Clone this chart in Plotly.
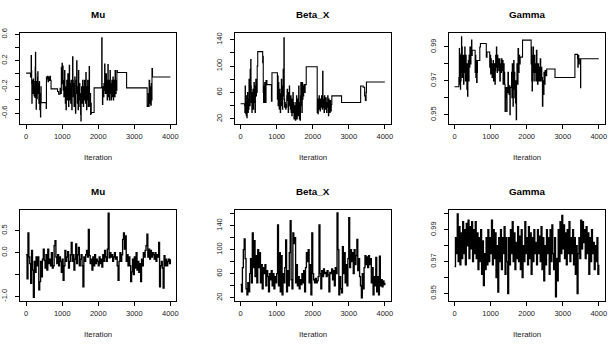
import plotly.graph_objects as go

# ---------------- data ----------------
panel_titles = ["Mu", "Beta_X", "Gamma"]
x_tick_vals = [0, 1000, 2000, 3000, 4000]
x_tick_text = ["0", "1000", "2000", "3000", "4000"]

# Row 1: poorly mixing chain (iteration, value) change points
mu_a_iter = [0, 120, 138, 146, 152, 158, 165, 172, 180, 188, 196, 204, 212, 220, 228, 236, 244, 250, 257, 264,
             270, 276, 284, 292, 300, 308, 316, 322, 330, 338, 346, 352, 360, 366, 372, 378, 386, 392, 397, 404,
             410, 416, 555, 562, 575, 590, 605, 620, 640, 660, 675, 690, 870, 900, 940, 965,
             975, 985, 995, 1005, 1015, 1025, 1035, 1045, 1055, 1065, 1075, 1085, 1095, 1105, 1115, 1125, 1135,
             1145, 1155, 1165, 1175, 1185, 1195, 1205, 1215, 1225, 1235, 1245, 1255, 1265, 1275, 1287, 1297,
             1307, 1317, 1327, 1337, 1347, 1357, 1367, 1377, 1390, 1400, 1410, 1420, 1430, 1440, 1450, 1460,
             1470, 1480, 1490, 1500, 1510, 1518, 1526, 1535, 1545, 1555, 1565, 1575, 1585, 1595, 1605, 1615,
             1625, 1635, 1645, 1655, 1665, 1675, 1685, 1695, 1705, 1715, 1725, 1735, 1747, 1757, 1767, 1777,
             1787, 1795, 1805, 1811, 1885, 2096, 2106,
             2116, 2126, 2136, 2146, 2156, 2166, 2176, 2186, 2196, 2206, 2216, 2226, 2236, 2246, 2256, 2266,
             2276, 2286, 2296, 2306, 2316, 2326, 2336, 2346, 2356, 2366, 2376, 2386, 2396, 2406, 2416, 2426,
             2436, 2446, 2456, 2466, 2476, 2486, 2496, 2506, 2516, 2529, 2786,
             3356, 3370, 3390, 3400, 3410, 3425, 3440, 3455, 3470, 3480, 3490, 3505, 4000]
mu_a_val = [0.01, -0.05, 0.28, 0.05, -0.15, -0.45, -0.2, -0.1, -0.3, -0.22, -0.08, -0.3, -0.18, -0.34, -0.2, -0.12,
            -0.36, 0.1, 0.33, 0.0, -0.3, -0.54, -0.3, -0.12, -0.38, -0.2, -0.05, 0.03, -0.18, -0.3, -0.15, -0.45,
            -0.25, -0.12, -0.35, -0.55, -0.3, -0.45, -0.66, -0.35, -0.2, -0.44, -0.53, -0.05, -0.08, -0.04, -0.12,
            -0.05, -0.1, -0.04, -0.1, -0.23, -0.27, -0.31, -0.22, -0.3,
            0.1, -0.15, 0.16, -0.05, 0.12, -0.25, -0.1, -0.35, -0.15, 0.05, -0.3, -0.45, -0.2, -0.55, -0.3, -0.1,
            -0.4, -0.2, 0.0, -0.35, -0.5, -0.25, 0.13, -0.15, -0.4, -0.2, -0.45, -0.1, -0.3, -0.55, -0.2, 0.26,
            -0.1, -0.35, -0.15, -0.5, -0.25, -0.05, -0.4, -0.6, -0.3, -0.1, 0.2, -0.2, -0.45, -0.3, -0.55, 0.05,
            -0.25, -0.4, -0.15, -0.5, -0.3, -0.62, -0.72, -0.35, -0.2, -0.45, -0.25, -0.1, -0.35, -0.5, -0.2,
            -0.4, -0.1, -0.3, -0.15, -0.45, 0.02, -0.3, -0.55, -0.2, -0.4, -0.1, -0.25, -0.5, -0.2, 0.11, -0.3,
            -0.5, -0.3, -0.62, -0.45, -0.6, -0.59, -0.215, 0.55, -0.2,
            -0.47, -0.3, -0.2, -0.35, -0.15, -0.25, 0.15, -0.1, -0.3, -0.2, 0.0, -0.3, -0.15, -0.4, -0.1, 0.14,
            -0.2, -0.35, -0.1, -0.4, -0.2, 0.05, -0.3, -0.15, -0.4, -0.25, -0.1, -0.35, -0.2, -0.05, -0.4, -0.25,
            -0.3, -0.1, -0.35, 0.05, -0.2, -0.3, -0.1, -0.25, 0.05, 0.02, -0.215,
            -0.5, -0.48, -0.3, -0.5, -0.1, -0.45, -0.2, -0.48, -0.15, -0.4, 0.08, -0.05, -0.05]

beta_a_iter = [0, 110, 118, 126, 134, 142, 150, 158, 166, 174, 182, 190, 198, 206, 214, 222, 232, 240, 248, 256,
               264, 272, 280, 288, 296, 304, 312, 320, 330, 340, 350, 360, 370, 380, 390, 400, 410, 420, 430, 440,
               450, 460, 475, 612, 620, 628, 636, 644, 652, 660, 668, 676, 690, 705, 730, 855, 870, 1020,
               1030, 1040, 1050, 1060, 1070, 1080, 1090, 1100, 1110, 1120, 1130, 1140, 1150, 1160, 1170, 1180,
               1190, 1200, 1210, 1220, 1230, 1240, 1250, 1260, 1270, 1280, 1290, 1300, 1310, 1320, 1330, 1340,
               1350, 1360, 1370, 1380, 1390, 1400, 1410, 1420, 1430, 1440, 1450, 1460, 1470, 1480, 1490, 1500,
               1510, 1520, 1530, 1540, 1550, 1560, 1570, 1580, 1590, 1600, 1610, 1620, 1630, 1640, 1650, 1660,
               1670, 1680, 1690, 1700, 1710, 1720, 1730, 1740, 1750, 1760, 1780, 1790, 1820, 2124,
               2135, 2145, 2155, 2165, 2175, 2185, 2195, 2205, 2215, 2225, 2235, 2245, 2255, 2265, 2275, 2285,
               2295, 2305, 2315, 2325, 2335, 2345, 2355, 2365, 2375, 2385, 2395, 2405, 2415, 2425, 2435, 2445,
               2455, 2465, 2475, 2485, 2495, 2505, 2515, 2530, 2800, 3330, 3400, 3440, 3460, 3480, 3490, 4000]
beta_a_val = [43, 40, 30, 70, 35, 28, 55, 25, 45, 22, 35, 60, 40, 30, 50, 35, 80, 55, 70, 40,
              95, 60, 110, 70, 45, 55, 30, 60, 40, 65, 35, 55, 75, 45, 70, 30, 60, 80, 55, 75,
              60, 100, 122, 105, 115, 60, 45, 70, 48, 45, 75, 50, 45, 78, 72, 47, 90, 50,
              85, 40, 75, 55, 35, 65, 45, 30, 58, 40, 80, 45, 70, 35, 55, 95,
              60, 143, 50, 38, 45, 40, 35, 42, 38, 55, 65, 48, 55, 30, 60, 45,
              70, 40, 52, 35, 55, 30, 45, 25, 50, 35, 60, 30, 45, 20, 40, 25,
              35, 18, 45, 28, 55, 20, 40, 30, 50, 25, 70, 35, 20, 45, 18, 55,
              75, 40, 60, 30, 75, 50, 70, 55, 65, 72, 60, 72, 99, 30,
              50, 28, 45, 35, 55, 40, 48, 32, 50, 45, 38, 55, 42, 35, 92, 50,
              38, 45, 30, 55, 40, 48, 35, 52, 42, 30, 45, 38, 55, 40, 25, 50,
              35, 45, 30, 48, 38, 32, 42, 55, 45, 70, 68, 55, 48, 60, 76, 76]

gamma_a_iter = [0, 120, 126, 132, 138, 144, 150, 156, 162, 168, 174, 180, 186, 192, 198, 206, 214, 222, 230, 240,
                250, 260, 270, 282, 292, 302, 312, 322, 340, 350, 360, 370, 380, 392, 402, 412, 425, 440, 455, 470,
                480, 490, 560, 570, 580, 590, 600, 612, 625, 635, 660, 700, 717, 873, 880, 900, 960,
                975, 990, 1000, 1010, 1020, 1030, 1040, 1050, 1060, 1070, 1080, 1090, 1100, 1110, 1120, 1130,
                1140, 1150, 1160, 1170, 1180, 1190, 1200, 1210, 1225, 1240, 1255, 1270, 1285, 1300, 1315, 1330,
                1345, 1360, 1375, 1390, 1400, 1410, 1420, 1434, 1445, 1455, 1470, 1480, 1495, 1510, 1520, 1535,
                1545, 1560, 1580, 1590, 1600, 1610, 1620, 1630, 1640, 1650, 1660, 1670, 1680, 1690, 1700, 1710,
                1720, 1730, 1745, 1760, 1775, 1790, 1805, 1820, 1885, 2124, 2132, 2140, 2150, 2160, 2170, 2180,
                2190, 2200, 2210, 2225, 2240, 2255, 2270, 2285, 2300, 2315, 2330, 2345, 2360, 2375, 2390, 2405,
                2420, 2437, 2450, 2465, 2480, 2495, 2510, 2525, 2556, 2786, 3338, 3400, 3410, 3420, 3430, 3445,
                3460, 3494, 3500, 4000]
gamma_a_val = [0.9665, 0.972, 0.968, 0.989, 0.975, 0.986, 0.968, 0.978, 0.965, 0.98, 0.97, 0.985, 0.975, 0.996,
               0.98, 0.99, 0.972, 0.985, 0.975, 0.98, 0.968, 0.985, 0.975, 0.99, 0.98, 0.97, 0.985, 0.975, 0.965,
               0.98, 0.961, 0.975, 0.982, 0.97, 0.985, 0.978, 0.99, 0.98, 0.988, 0.994, 0.985, 0.988, 0.988,
               0.975, 0.985, 0.972, 0.982, 0.969, 0.975, 0.982, 0.982, 0.99, 0.992, 0.992, 0.984, 0.987, 0.987,
               0.978, 0.985, 0.974, 0.983, 0.976, 0.98, 0.972, 0.978, 0.975, 0.982, 0.97, 0.976, 0.973, 0.98,
               0.968, 0.976, 0.985, 0.978, 0.99, 0.982, 0.975, 0.985, 0.978, 0.983, 0.976, 0.983, 0.97, 0.98,
               0.975, 0.983, 0.976, 0.982, 0.968, 0.98, 0.975, 0.968, 0.952, 0.966, 0.96, 0.966, 0.952, 0.966,
               0.963, 0.975, 0.966, 0.962, 0.967, 0.95, 0.966, 0.966, 0.975, 0.96, 0.98, 0.965, 0.955, 0.968,
               0.982, 0.965, 0.975, 0.96, 0.97, 0.957, 0.965, 0.947, 0.97, 0.98, 0.968, 0.989, 0.975, 0.985,
               0.98, 0.984, 0.994, 0.98, 0.99, 0.97, 0.964, 0.985, 0.975, 0.99, 0.978, 0.97, 0.985, 0.975,
               0.98, 0.97, 0.988, 0.975, 0.968, 0.98, 0.97, 0.978, 0.97, 0.983, 0.97, 0.978, 0.972, 0.955,
               0.97, 0.962, 0.975, 0.968, 0.976, 0.973, 0.977, 0.972, 0.9856, 0.9856, 0.983, 0.978, 0.985,
               0.98, 0.983, 0.966, 0.983, 0.983]

# Row 2: well mixing chain, one stored sample every 25 iterations
thin = 25
mu_b_val = [-0.05, -0.6, 0.45, -0.1, -0.25, -0.7, 0.05, -0.4, -1.02, -0.2,
            -0.45, -0.1, -0.3, -0.1, -0.85, -0.66, -0.2, -0.55, -0.15, 0.08,
            -0.18, -0.35, -0.05, -0.4, 0.08, -0.25, -0.15, -0.3, 0.0, -0.35,
            -0.3, 0.16, 0.27, -0.1, -0.25, -0.05, -0.3, -0.1, -0.2, -0.45,
            -0.15, -0.63, -0.3, 0.05, -0.2, -0.1, 0.02, -0.35, -0.2, -0.05,
            0.23, -0.2, -0.05, -0.4, -0.15, 0.2, -0.25, -0.05, 0.12, -0.3,
            -0.15, -0.05, -0.3, -0.78, -0.1, -0.2, -0.05, 0.05, -0.1, 0.53,
            -0.07, -0.25, -0.15, -0.4, -0.1, -0.3, -0.05, -0.25, -0.15, -0.2,
            -0.3, -0.1, -0.25, -0.15, -0.33, -0.05, -0.2, 0.05, -0.1, -0.2,
            0.08, 0.9, -0.12, 0.0, -0.1, -0.05, -0.2, -0.1, 0.0, -0.15,
            -0.1, -0.3, -0.63, -0.2, 0.0, -0.2, -0.05, 0.3, 0.45, 0.08,
            0.38, -0.2, -0.05, -0.3, -0.1, -0.3, -0.66, -0.44, -0.15, -0.5,
            -0.1, -0.35, 0.0, -0.4, -0.2, -0.45, -0.25, -0.66, -0.15, -0.3,
            0.0, -0.1, 0.05, 0.16, 0.42, -0.1, 0.08, -0.15, 0.05, -0.1,
            0.0, -0.05, -0.15, 0.0, -0.2, -0.05, -0.1, 0.23, -0.78, -0.3,
            -0.2, -0.35, -0.81, -0.07, -0.3, -0.15, -0.3, -0.2, -0.15, -0.25,
            -0.15]
beta_b_val = [42, 30, 70, 100, 118, 85, 35, 25, 45, 30,
              60, 85, 45, 128, 70, 115, 55, 90, 45, 100,
              70, 95, 45, 75, 35, 70, 60, 75, 40, 65,
              55, 30, 60, 50, 65, 40, 60, 35, 55, 45,
              60, 141, 40, 95, 30, 90, 25, 60, 45, 70,
              116, 30, 65, 40, 95, 148, 50, 35, 128, 110,
              120, 45, 75, 40, 55, 35, 50, 42, 60, 45,
              65, 30, 70, 95, 80, 100, 45, 75, 25, 128,
              60, 50, 45, 52, 45, 48, 55, 141, 60, 35,
              65, 55, 68, 60, 62, 55, 65, 58, 30, 62,
              60, 68, 50, 65, 40, 70, 60, 161, 100, 25,
              55, 35, 28, 105, 60, 95, 45, 75, 40, 85,
              153, 70, 100, 80, 95, 60, 100, 75, 90, 117,
              65, 85, 55, 40, 20, 60, 35, 70, 90, 75,
              88, 70, 90, 75, 85, 45, 70, 25, 55, 40,
              87, 30, 55, 25, 89, 40, 50, 38, 48, 42,
              45]
gamma_b_val = [0.967, 0.985, 0.975, 1.0, 0.97, 0.992, 0.968, 0.988, 0.972, 0.995,
               0.975, 0.99, 0.968, 0.994, 0.98, 0.996, 0.972, 0.992, 0.978, 0.995,
               0.97, 0.99, 0.975, 0.995, 0.972, 0.988, 0.965, 0.985, 0.97, 0.99,
               0.962, 0.983, 0.955, 0.975, 0.965, 0.985, 0.968, 0.99, 0.97, 0.985,
               0.975, 0.996, 0.968, 0.99, 0.972, 0.988, 0.96, 0.98, 0.951, 0.985,
               0.97, 0.99, 0.965, 0.985, 0.975, 0.992, 0.962, 0.985, 0.97, 0.95,
               0.985, 0.968, 0.99, 0.975, 0.995, 0.97, 0.988, 0.965, 0.982, 0.972,
               0.992, 0.97, 0.986, 0.965, 0.99, 0.96, 0.98, 0.97, 0.995, 0.975,
               0.985, 0.968, 0.992, 0.972, 0.988, 0.962, 0.985, 0.97, 0.99, 0.975,
               0.982, 0.968, 0.99, 0.975, 0.986, 0.97, 0.992, 0.965, 0.985, 0.958,
               0.98, 0.968, 0.99, 0.975, 0.985, 0.962, 0.99, 0.97, 0.993, 0.975,
               0.965, 0.985, 0.948, 0.972, 0.958, 0.99, 0.97, 0.995, 0.975, 0.999,
               0.978, 0.993, 0.972, 0.988, 0.968, 0.99, 0.975, 0.995, 0.97, 0.985,
               0.975, 0.99, 0.968, 0.985, 0.962, 0.98, 0.95, 0.975, 0.985, 0.972,
               0.996, 0.978, 0.995, 0.982, 0.99, 0.972, 0.992, 0.975, 0.988, 0.962,
               0.985, 0.97, 0.99, 0.975, 0.982, 0.965, 0.98, 0.97, 0.985, 0.962,
               0.968]

# y-axis ticks per panel (R style: some ticks left unlabeled)
y_ticks = [
    ([-0.6, -0.4, -0.2, 0.0, 0.2, 0.4, 0.6], ["-0.6", "", "-0.2", "", "0.2", "", "0.6"]),
    ([20, 40, 60, 80, 100, 120, 140], ["20", "", "60", "", "100", "", "140"]),
    ([0.95, 0.96, 0.97, 0.98, 0.99], ["0.95", "", "0.97", "", "0.99"]),
    ([-1.0, -0.5, 0.0, 0.5], ["-1.0", "", "0.0", "0.5"]),
    ([20, 40, 60, 80, 100, 120, 140, 160], ["20", "", "60", "", "100", "", "140", ""]),
    ([0.95, 0.96, 0.97, 0.98, 0.99, 1.0], ["0.95", "", "0.97", "", "0.99", ""]),
]
y_ranges = [[-0.765, 0.62], [12.6, 149.8], [0.9446, 0.9981],
            [-1.097, 0.978], [15.0, 166.5], [0.9455, 1.0026]]

# ---------------- figure ----------------
W, H = 615, 344
col_px = [(20.5, 177.0), (236.0, 392.5), (451.0, 607.5)]
row_px = [(28.7, 121.0), (208.3, 301.0)]
line_w = [1.1, 1.35]
FONT = "Liberation Sans, Arial, Helvetica, sans-serif"

series = [
    (mu_a_iter, mu_a_val), (beta_a_iter, beta_a_val), (gamma_a_iter, gamma_a_val),
    ([i * thin for i in range(len(mu_b_val))], mu_b_val),
    ([i * thin for i in range(len(beta_b_val))], beta_b_val),
    ([i * thin for i in range(len(gamma_b_val))], gamma_b_val),
]

fig = go.Figure()
layout = dict(width=W, height=H, margin=dict(l=0, r=0, t=0, b=0),
              paper_bgcolor="white", plot_bgcolor="white", showlegend=False,
              font=dict(family=FONT, color="black"))
annotations = []

for k in range(6):
    r, c = divmod(k, 3)
    n = "" if k == 0 else str(k + 1)
    x0, x1 = col_px[c]
    ytop, ybot = row_px[r]
    xs, ys = series[k]
    fig.add_trace(go.Scatter(x=xs, y=ys, mode="lines", line=dict(color="black", width=line_w[r], shape="hv"),
                             xaxis="x" + n, yaxis="y" + n, hoverinfo="skip"))
    layout["xaxis" + n] = dict(domain=[x0 / W, x1 / W], anchor="y" + n, range=[-160, 4160],
                               tickvals=x_tick_vals, ticktext=x_tick_text, ticks="outside", ticklen=4,
                               tickwidth=1, tickcolor="black", showline=True, mirror=True, linecolor="black",
                               linewidth=1, showgrid=False, zeroline=False,
                               tickfont=dict(size=7.5, color="#222"), ticklabelstandoff=1)
    tv, tt = y_ticks[k]
    layout["yaxis" + n] = dict(domain=[1 - ybot / H, 1 - ytop / H], anchor="x" + n, range=y_ranges[k],
                               tickvals=tv, ticktext=tt, ticks="outside", ticklen=4, tickwidth=1,
                               tickcolor="black", showline=True, mirror=True, linecolor="black", linewidth=1,
                               showgrid=False, zeroline=False, tickangle=-90,
                               tickfont=dict(size=7.5, color="#222"), ticklabelstandoff=5)
    xc = (x0 + x1) / 2 / W
    annotations.append(dict(text="<b>%s</b>" % panel_titles[c], x=xc, y=1 - (ytop - 18.7) / H,
                            xref="paper", yref="paper", showarrow=False, xanchor="center", yanchor="middle",
                            font=dict(size=9.8, color="black", family=FONT)))
    annotations.append(dict(text="Iteration", x=xc, y=1 - (ybot + 34.2) / H,
                            xref="paper", yref="paper", showarrow=False, xanchor="center", yanchor="middle",
                            font=dict(size=7.8, color="#222", family=FONT)))

layout["annotations"] = annotations
fig.update_layout(**layout)
fig.write_html("out.html")
